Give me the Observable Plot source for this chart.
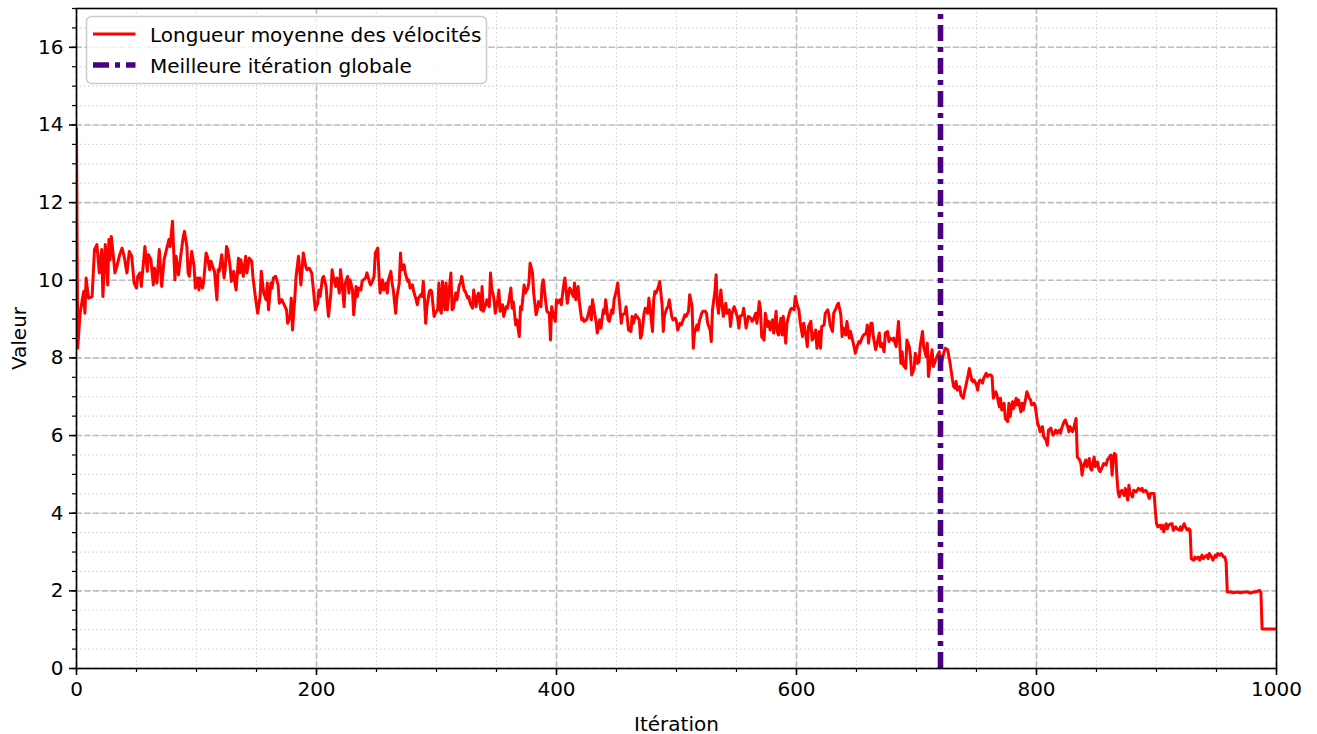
<!DOCTYPE html>
<html>
<head>
<meta charset="utf-8">
<script src="https://cdn.jsdelivr.net/npm/d3@7"></script>
<script src="https://cdn.jsdelivr.net/npm/@observablehq/plot@0.6"></script>
<style>
html, body { margin: 0; padding: 0; background: #ffffff; }
#wrap { position: relative; width: 1317px; height: 734px; font-family: "DejaVu Sans", sans-serif; }
#legend { position: absolute; left: 85px; top: 15px; }
</style>
</head>
<body>
<div id="wrap"></div>
<script>
// ---- data ----
const iterations = [
  0,1,3,6,7,8,10,13,15,17, 19,21,22,24,26,27,28,29,31,32, 34,36,38,40,42,44,46,48,50,51, 53,54,57,59,60,62,64,65,67,69, 71,73,75,77,78,80,82,83,85,87, 89,
  90,92,93,94,96,98,99,101,102,103, 105,106,108,109,111,112,114,115,117,118, 119,121,123,124,125,126,128,129,131,132, 133,135,136,137,139,141,142,144,146,147, 149,151,153,154,156,158,159,160,162,163, 164,166,168,169,171,173,175,176,178,179, 180,182,183,
  185,187,188,189,191,192,194,196,198,199, 201,202,203,205,206,208,209,210,212,213, 214,216,217,219,220,221,223,224,226,227, 228,230,231,233,234,235,237,238,239,241, 242,244,245,246,248,249,251,252,253,255, 256,258,259,260,262,263,264,266,267,269, 270,271,273,274,
  276,277,278,280,281,283,284,285,287,288, 289,290,291,292,294,295,296,298,299,301, 302,303,304,305,307,308,309,310,312,313, 314,316,317,319,320,321,323,324,326,327, 328,330,331,333,334,335,337,338,339,341, 342,344,345,346,348,349,351,352,353,355, 356,358,359,360,362,363,364,366,
  367,369,370,371,373,374,376,377,378,380, 381,383,384,385,387,388,389,391,392,394, 395,396,397,399,400,401,403,404,406,407, 408,409,411,412,414,415,416,418,419,421, 422,423,425,426,428,429,430,432,433,434, 436,437,439,440,441,443,444,446,447,448, 450,451,453,454,455,457,458,
  460,462,463,464,466,467,469,470,471,473, 474,476,477,478,480,481,482,483,485,486, 488,489,490,492,493,494,496,497,499,500, 501,503,504,506,507,508,510,511,513,514, 515,517,518,519,521,522,524,525,526,528, 529,530,532,533,534,535,537,538,539,541, 542,544,545,546,548,549,
  551,552,553,555,556,558,559,560,562,563, 564,566,567,569,570,571,573,574,576,577, 578,580,581,583,584,585,587,588,589,591, 592,594,595,596,598,599,601,602,603,605, 606,608,609,610,612,613,614,616,617,619, 620,621,623,624,626,627,628,630,631,633, 634,635,637,638,639,641,
  642,644,645,646,648,649,651,652,653,655, 656,658,659,660,662,663,664,666,667,669, 670,671,673,674,676,677,678,680,681,683, 684,685,687,688,689,691,692,694,695,696, 698,699,701,702,703,705,706,708,709,710, 712,713,714,716,717,719,720,721,723,724, 726,727,728,730,731,
  732,733,734,736,737,739,740,741,743,744, 746,747,748,750,751,752,753,755,756,758, 759,760,762,763,764,766,767,769,770,771, 773,774,776,777,778,780,781,783,784,785, 787,788,789,791,792,794,795,796,798,799, 801,802,803,805,806,808,809,810,812,813, 814,816,817,819,820,821,823,824,
  826,827,828,830,831,833,834,836,837,838, 839,841,842,844,845,846,848,849,851,852, 853,855,856,858,859,860,862,863,864,865, 866,867,868,869,870,871,873,874,876,877, 878,880,881,883,884,885,887,888,889,891, 892,894,895,896,898,899,900,901,903,904, 905,906,908,909,910,912,
  913,914,916,917,919,920,921,923,924,926, 927,928,929,931,932,933,935,936,938,939, 940,942,943,944,946,947,949,950,951,953, 954,956,957,958,959,962,964,967,970,973, 976,978,981,984,986,987,988,994,1000
];
const meanVelocityLength = [
  13.9,8.25,9.15,9.71,9.15,10.06,9.54,9.58,10.79,10.92, 10.19,10.79,9.58,10.92,9.88,11.05,10.53,11.13,10.53,10.19, 10.4,10.66,10.83,10.57,10.19,10.74,10.62,9.93,9.8,10.1, 10.19,9.84,10.87,10.23,10.66,10.53,9.88,10.31,9.93,10.79, 9.84,10.53,10.79,11.05,10.87,11.52,10.01,10.62,10.14,10.66, 11.13,
  11.26,10.87,10.19,10.1,10.74,10.36,9.8,10.06,9.75,10.06, 9.8,9.97,10.7,10.62,10.27,10.49,10.31,10.23,9.5,10.27, 10.23,10.66,10.06,10.31,10.87,10.79,10.36,9.97,10.23,9.93, 9.75,10.57,10.19,10.53,10.1,10.62,10.19,10.57,10.49,10.1, 9.58,9.15,9.58,10.23,9.67,9.5,9.93,9.24,9.93,9.8, 10.06,10.1,9.88,9.41,9.5,9.37,9.24,8.89,9.07,9.54, 8.72,9.58,10.1,
  10.62,9.88,10.27,10.7,10.36,10.27,10.31,10.19,9.58,9.24, 9.41,9.75,9.58,10.06,10.1,9.84,9.41,9.07,9.67,10.27, 10.1,9.84,10.06,9.67,10.27,10.01,9.32,9.93,10.1,9.67, 10.01,9.75,9.11,9.84,9.58,9.8,9.75,9.97,10.01,10.06, 10.19,9.97,9.88,9.93,10.1,10.7,10.83,10.19,9.67,10.01, 9.75,9.93,9.67,10.01,10.23,9.93,9.75,9.15,9.58,9.93, 10.7,10.27,10.4,10.18,
  9.97,10.01,9.8,9.88,9.71,9.5,9.37,9.54,9.63,9.58, 9.97,9.5,8.89,9.32,9.71,9.75,9.71,9.07,9.15,9.24, 9.93,9.24,9.15,9.97,9.24,9.93,9.24,9.58,10.19,9.24, 9.28,9.67,9.5,9.88,9.93,10.1,9.75,9.71,9.54,9.58, 9.41,9.28,9.75,9.32,9.58,9.67,9.24,9.84,9.2,9.37, 9.5,9.32,10.19,9.8,9.5,9.15,9.5,9.75,9.2,9.37, 9.07,9.32,9.28,9.41,9.8,9.28,9.45,8.85,
  8.98,8.55,9.32,9.24,9.88,9.67,9.8,9.93,10.44,10.19, 9.67,9.11,9.24,9.45,9.32,9.88,10.01,9.45,9.2,9.15, 8.46,9.32,9.15,8.94,9.5,9.41,9.5,9.37,9.88,10.06, 9.75,9.41,9.8,9.75,9.58,9.93,9.5,9.84,9.45,8.98, 9.02,8.94,8.98,9.07,9.32,8.98,9.5,9.11,8.94,8.64, 8.98,8.77,9.24,9.15,9.5,8.98,8.94,9.24,9.15,9.5, 9.75,9.93,9.24,8.89,9.11,9.15,9.32,
  8.72,8.68,9.07,8.89,9.11,9.07,8.98,8.51,8.59,9.15, 9.28,9.15,9.54,9.28,8.68,9.5,9.71,9.67,9.84,9.97, 9.37,8.68,9.11,9.28,9.32,9.5,9.07,8.98,9.02,8.94, 8.72,8.89,8.85,9.02,9.11,9.07,9.2,9.63,9.32,8.25, 8.64,8.85,8.72,8.94,9.15,9.2,9.2,9.15,8.89,8.72, 8.42,9.24,9.71,10.14,9.41,9.15,9.75,9.37,9.07,9.41, 9.15,9.24,8.81,9.11,9.32,9.24,
  9.02,8.77,9.07,9.11,9.28,8.77,8.94,9.07,9.02,8.94, 8.98,9.15,8.89,9.45,9.24,8.55,8.46,9.15,8.81,8.94, 8.72,8.98,8.64,9.2,8.68,8.59,9.02,8.59,9.07,8.38, 8.89,9.15,9.24,9.28,9.24,9.58,9.32,9.24,8.94,8.55, 8.89,8.55,8.29,8.81,8.94,8.46,8.51,8.72,8.25,8.68, 8.25,8.81,8.85,9.15,9.24,9.11,8.85,8.68,9.15,9.28, 9.37,9.41,9.1,8.55,8.77,8.59,
  8.94,8.51,8.68,8.55,8.29,8.12,8.34,8.42,8.38,8.55, 8.59,8.64,8.85,8.38,8.89,8.89,8.55,8.21,8.34,8.64, 8.29,8.38,8.16,8.64,8.68,8.42,8.51,8.46,8.51,8.29, 8.59,8.94,7.86,8.16,7.82,7.73,8.46,8.29,8.03,7.56, 7.73,8.12,7.86,7.9,8.29,8.68,8.29,8.03,8.38,7.52, 8.03,8.21,7.78,7.95,8.03,8.16,7.78,7.9,8.16,8.25, 8.21,8.03,7.86,7.43,7.26,
  7.22,7.39,7.17,7.26,7.05,6.96,7.13,7.26,7.56,7.73, 7.43,7.39,7.43,7.3,7.17,7.39,7.43,7.35,7.48,7.6, 7.52,7.56,7.56,7.52,6.96,7.13,7.05,6.74,6.96,6.66, 6.83,6.44,6.36,6.83,6.49,6.87,6.7,6.96,6.79,6.92, 6.61,6.83,6.66,6.96,7.13,6.96,6.92,6.79,6.83,6.74, 6.31,6.23,6.1,6.23,5.97,5.88,5.75,6.14,6.19,6.06, 6.01,6.14,6.06,6.14,6.06,6.19,6.36,6.4,
  6.23,6.1,6.23,6.1,6.19,6.44,5.45,5.37,5.28,4.98, 5.2,5.37,5.2,5.41,5.15,5.11,5.45,5.2,5.32,5.11, 5.07,5.2,5.28,5.24,5.37,5.41,5.5,4.98,5.41,5.54, 5.5,4.94,4.55,4.42,4.55,4.59,4.46,4.64,4.34,4.72, 4.51,4.42,4.59,4.55,4.59,4.64,4.59,4.64,4.55,4.59, 4.55,4.38,4.51,4.51,4.51,4.08,3.73,3.65,3.69,3.6, 3.69,3.52,3.73,3.6,3.69,3.73,
  3.73,3.56,3.65,3.6,3.56,3.65,3.56,3.73,3.65,3.56, 3.6,3.56,2.83,2.79,2.87,2.83,2.87,2.79,2.92,2.83, 2.87,2.92,2.83,2.96,2.87,2.79,2.92,2.87,2.96,2.92, 2.96,2.87,2.87,2.74,1.97,1.97,1.95,1.97,1.95,1.97, 1.97,1.94,1.97,1.99,2.01,1.97,1.02,1.02,1.02
];
const bestIteration = [720];
const seriesLabels = ["Longueur moyenne des vélocités", "Meilleure itération globale"];
const seriesColors = ["#ff0000", "#4b0082"];
const xTicks = [0, 200, 400, 600, 800, 1000];
const yTicks = [0, 2, 4, 6, 8, 10, 12, 14, 16];
const xMinorTicks = d3.range(0, 1001, 50);
const yMinorTicks = d3.range(0, 17.001, 0.5);
const xLabel = "Itération";
const yLabel = "Valeur";

if (iterations.length !== meanVelocityLength.length) {
  throw new Error("length mismatch " + iterations.length + " vs " + meanVelocityLength.length);
}
const table = iterations.map((it, i) => ({iteration: it, value: meanVelocityLength[i]}));

const font = "DejaVu Sans, sans-serif";
const bestDash = "16,6,5,6";

const chart = Plot.plot({
  width: 1317,
  height: 734,
  marginLeft: 76,
  marginRight: 41,
  marginTop: 8,
  marginBottom: 66,
  style: {fontFamily: font, fontSize: "20px", color: "#000", background: "#fff", overflow: "visible"},
  x: {domain: [0, 1000]},
  y: {domain: [0, 17]},
  marks: [
    Plot.gridX(xMinorTicks, {stroke: "#d4d4d4", strokeOpacity: 1, strokeWidth: 1.2, strokeDasharray: "1.5,2.5"}),
    Plot.gridY(yMinorTicks, {stroke: "#d4d4d4", strokeOpacity: 1, strokeWidth: 1.2, strokeDasharray: "1.5,2.5"}),
    Plot.gridX(xTicks, {stroke: "#bdbdbd", strokeOpacity: 1, strokeWidth: 1.6, strokeDasharray: "6,2.6"}),
    Plot.gridY(yTicks, {stroke: "#bdbdbd", strokeOpacity: 1, strokeWidth: 1.6, strokeDasharray: "6,2.6"}),
    Plot.line(table, {x: "iteration", y: "value", stroke: seriesColors[0], strokeWidth: 3, strokeLinejoin: "round", clip: true}),
    Plot.ruleX(bestIteration, {y1: 0, y2: 17, stroke: seriesColors[1], strokeWidth: 5.6, strokeDasharray: bestDash}),
    Plot.frame({stroke: "#000", strokeWidth: 1.6}),
    Plot.axisX(xMinorTicks, {tickSize: 4, strokeWidth: 1.2, fill: "none", label: null}),
    Plot.axisY(yMinorTicks, {tickSize: 4, strokeWidth: 1.2, fill: "none", label: null}),
    Plot.axisX(xTicks, {tickSize: 7, tickPadding: 6, strokeWidth: 1.6, tickFormat: d => String(d),
      label: xLabel, labelAnchor: "center", labelArrow: "none", labelOffset: 62}),
    Plot.axisY(yTicks, {tickSize: 7, tickPadding: 6, strokeWidth: 1.6, tickFormat: d => String(d),
      label: yLabel, labelAnchor: "center", labelArrow: "none", labelOffset: 65})
  ]
});

const wrap = document.getElementById("wrap");
wrap.appendChild(chart);

// legend overlay (matplotlib-style, upper left inside the axes)
const ns = "http://www.w3.org/2000/svg";
const leg = document.createElementNS(ns, "svg");
leg.setAttribute("id", "legend");
leg.setAttribute("width", 404);
leg.setAttribute("height", 71);
const box = document.createElementNS(ns, "rect");
box.setAttribute("x", 1.5); box.setAttribute("y", 1.5);
box.setAttribute("width", 400); box.setAttribute("height", 67);
box.setAttribute("rx", 5);
box.setAttribute("fill", "rgba(255,255,255,0.8)");
box.setAttribute("stroke", "#cccccc");
box.setAttribute("stroke-width", 1.5);
leg.appendChild(box);
const rows = [
  {label: seriesLabels[0], color: seriesColors[0], w: 3, dash: null, cy: 19},
  {label: seriesLabels[1], color: seriesColors[1], w: 5.6, dash: bestDash, cy: 50}
];
rows.forEach(r => {
  const ln = document.createElementNS(ns, "line");
  ln.setAttribute("x1", 8); ln.setAttribute("x2", 50.5);
  ln.setAttribute("y1", r.cy); ln.setAttribute("y2", r.cy);
  ln.setAttribute("stroke", r.color);
  ln.setAttribute("stroke-width", r.w);
  if (r.dash) ln.setAttribute("stroke-dasharray", r.dash);
  leg.appendChild(ln);
  const tx = document.createElementNS(ns, "text");
  tx.setAttribute("x", 65);
  tx.setAttribute("y", r.cy + 8);
  tx.setAttribute("font-family", font);
  tx.setAttribute("font-size", 20);
  tx.setAttribute("fill", "#000");
  tx.textContent = r.label;
  leg.appendChild(tx);
});
wrap.appendChild(leg);
</script>
</body>
</html>
